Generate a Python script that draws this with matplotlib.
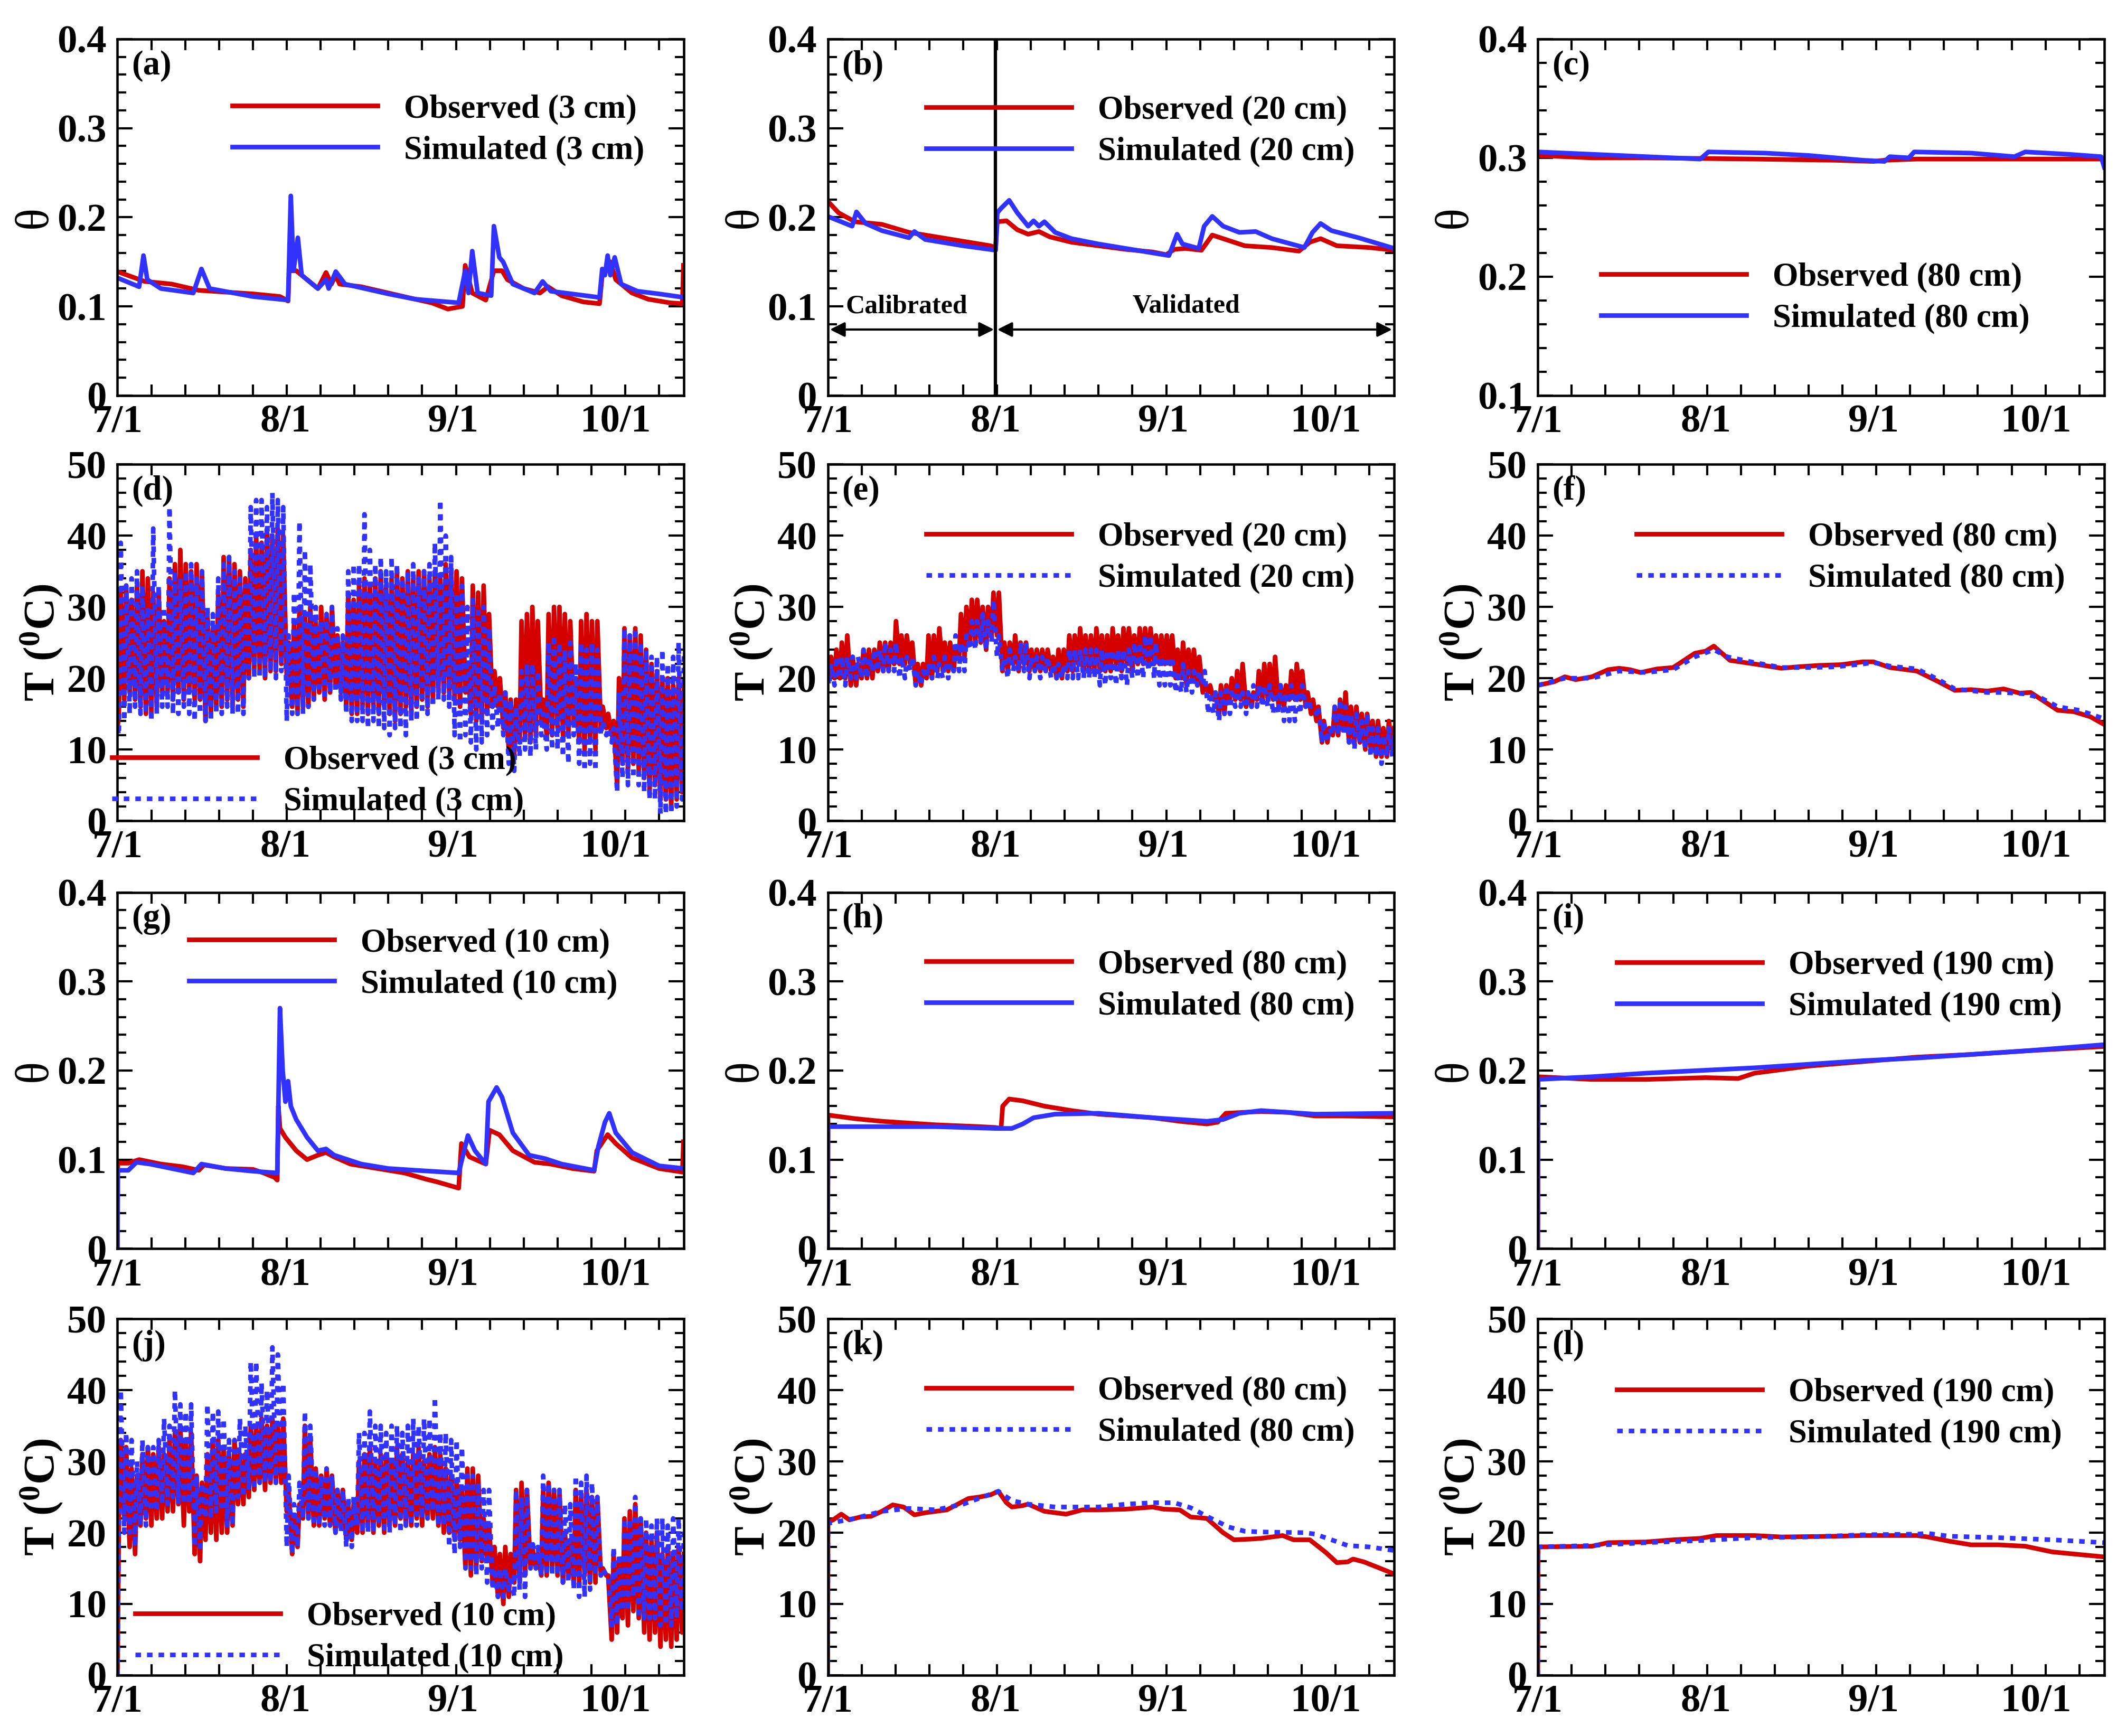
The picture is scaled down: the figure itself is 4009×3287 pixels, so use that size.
import numpy as np
import matplotlib
matplotlib.use("Agg")
import matplotlib.pyplot as plt
from matplotlib.ticker import MultipleLocator, FixedLocator, FuncFormatter

plt.rcParams['font.family'] = ['Liberation Serif', 'DejaVu Serif']
plt.rcParams['font.weight'] = 'bold'
plt.rcParams['axes.labelweight'] = 'bold'
plt.rcParams['mathtext.fontset'] = 'custom'
plt.rcParams['mathtext.rm'] = 'Liberation Serif:bold'
plt.rcParams['mathtext.bf'] = 'Liberation Serif:bold'

RED = '#d40000'
BLUE = '#3232ff'

date_ticks = [0, 31, 62, 92]
date_labels = ['7/1', '8/1', '9/1', '10/1']
x_end = 104.6

# ---------------- soil moisture (theta), day since 7/1 -> value -------------
a_obs_day = [0, 5, 10, 15, 20, 25, 30, 31.5, 31.8, 32.1, 33, 35, 37, 38.5, 39.5, 40.3, 41, 45, 50, 55, 58, 61, 63.7,
             64.2, 65.5, 68, 69.5, 71, 72, 75, 78, 79.5, 82, 86, 89, 89.5, 91, 92, 95, 98, 102, 104.3, 104.5]
a_obs = [0.139, 0.128, 0.125, 0.118, 0.116, 0.114, 0.111, 0.106, 0.16, 0.14, 0.14, 0.13, 0.12, 0.138, 0.125, 0.135,
         0.125, 0.122, 0.115, 0.108, 0.104, 0.097, 0.1, 0.146, 0.115, 0.107, 0.14, 0.14, 0.13, 0.12, 0.115, 0.122,
         0.112, 0.105, 0.103, 0.135, 0.15, 0.13, 0.115, 0.108, 0.104, 0.103, 0.146]
a_sim_day = [0, 4, 4.8, 5.5, 8, 14, 15.5, 17, 25, 31.5, 32, 32.5, 33.3, 34, 37, 38.5, 39, 40.3, 42, 50, 55, 63, 64.2,
             64.8, 65.5, 66.5, 69, 69.5, 70.5, 71.2, 73, 77, 78.5, 80, 89, 89.5, 90, 90.5, 91, 91.8, 93, 96, 100, 104.6]
a_sim = [0.132, 0.122, 0.157, 0.13, 0.12, 0.115, 0.142, 0.12, 0.111, 0.107, 0.224, 0.14, 0.177, 0.135, 0.12, 0.13,
         0.12, 0.139, 0.125, 0.114, 0.108, 0.104, 0.14, 0.115, 0.162, 0.115, 0.112, 0.19, 0.155, 0.15, 0.125, 0.115,
         0.128, 0.117, 0.11, 0.142, 0.135, 0.157, 0.135, 0.155, 0.125, 0.117, 0.114, 0.11]

b_obs_day = [0, 2, 5, 10, 15, 20, 25, 30, 31, 31.3, 33, 35, 37, 39, 41, 45, 50, 55, 60, 62.5, 64, 66, 69, 71, 73, 77,
             82, 87, 89, 91, 94, 100, 104.6]
b_obs = [0.218, 0.205, 0.195, 0.192, 0.183, 0.178, 0.173, 0.168, 0.166, 0.195, 0.196, 0.186, 0.181, 0.184, 0.178,
         0.172, 0.168, 0.164, 0.161, 0.158, 0.164, 0.165, 0.163, 0.18, 0.176, 0.168, 0.166, 0.162, 0.172, 0.176,
         0.168, 0.166, 0.163]
b_sim_day = [0, 4.5, 5.3, 7, 10, 15, 16, 18, 25, 31, 31.3, 32, 33.5, 35, 37, 38, 39, 40, 42, 45, 50, 55, 60, 63,
             64.5, 65.5, 68.5, 69.5, 71, 73, 76, 79, 82, 88, 89.5, 91, 93, 98, 104.6]
b_sim = [0.201, 0.19, 0.206, 0.193, 0.185, 0.177, 0.184, 0.175, 0.168, 0.163, 0.205, 0.21, 0.219, 0.205, 0.19, 0.196,
         0.19, 0.195, 0.183, 0.176, 0.17, 0.165, 0.16, 0.157, 0.181, 0.17, 0.165, 0.19, 0.201, 0.19, 0.183, 0.184,
         0.176, 0.166, 0.183, 0.193, 0.185, 0.177, 0.165]

c_obs_day = [0, 10, 20, 40, 55, 62, 64, 70, 104.6]
c_obs = [0.302, 0.3, 0.3, 0.299, 0.298, 0.297, 0.298, 0.299, 0.299]
c_sim_day = [0, 10, 25, 30, 31.5, 42, 50, 60, 64, 65, 68.5, 69.5, 80, 88, 90, 98, 104, 104.6]
c_sim = [0.305, 0.303, 0.3, 0.299, 0.305, 0.304, 0.302, 0.298, 0.297, 0.301, 0.3, 0.305, 0.304, 0.301, 0.305,
         0.303, 0.301, 0.292]

g_obs_day = [0, 0.05, 2, 4, 8, 12, 15, 16, 20, 25, 27, 29, 29.5, 29.7, 30, 31, 33, 35, 37, 38.5, 40, 43, 48, 53, 57,
             59, 63, 63.5, 65, 68, 68.7, 70.5, 73, 77, 80, 84, 88, 88.5, 90.5, 92, 95, 100, 104.3, 104.5]
g_obs = [0, 0.096, 0.096, 0.1, 0.095, 0.092, 0.088, 0.094, 0.09, 0.089, 0.085, 0.08, 0.077, 0.16, 0.135, 0.125, 0.11,
         0.1, 0.105, 0.108, 0.103, 0.095, 0.09, 0.085, 0.078, 0.075, 0.068, 0.118, 0.103, 0.095, 0.133, 0.128, 0.11,
         0.097, 0.095, 0.09, 0.087, 0.11, 0.128, 0.118, 0.102, 0.09, 0.086, 0.12]
g_sim_day = [0, 0.05, 2, 3.5, 6, 10, 14, 15.5, 20, 25, 29.5, 30, 30.5, 31, 31.5, 32, 33, 35, 37, 38.5, 40, 45, 50,
             55, 63, 64, 64.7, 66, 68, 68.5, 70, 71, 73, 76, 79, 82, 88, 88.8, 90, 90.8, 92, 95, 100, 104.6]
g_sim = [0, 0.088, 0.088, 0.097, 0.095, 0.09, 0.085, 0.095, 0.09, 0.087, 0.085, 0.27, 0.2, 0.165, 0.188, 0.16, 0.145,
         0.125, 0.11, 0.112, 0.105, 0.095, 0.09, 0.088, 0.085, 0.11, 0.127, 0.11, 0.095, 0.165, 0.181, 0.17, 0.13,
         0.105, 0.101, 0.095, 0.088, 0.115, 0.142, 0.152, 0.13, 0.108, 0.093, 0.09]

h_obs_day = [0, 0.05, 5, 10, 20, 28, 31, 32, 32.3, 33.5, 36, 40, 45, 50, 55, 60, 65, 70, 72, 73.5, 80, 85, 90, 95, 104.6]
h_obs = [0, 0.15, 0.146, 0.143, 0.139, 0.137, 0.136, 0.135, 0.16, 0.168, 0.166, 0.16, 0.155, 0.151, 0.149, 0.147,
         0.143, 0.14, 0.142, 0.152, 0.154, 0.153, 0.149, 0.149, 0.148]
h_sim_day = [0, 0.05, 10, 20, 31, 34, 36, 38, 42, 50, 60, 65, 70, 73, 76, 80, 85, 90, 104.6]
h_sim = [0, 0.137, 0.137, 0.137, 0.135, 0.135, 0.14, 0.147, 0.151, 0.152, 0.147, 0.145, 0.143, 0.145, 0.152, 0.155,
         0.153, 0.151, 0.152]

i_obs_day = [0, 0.05, 10, 20, 31, 37, 40, 50, 60, 70, 80, 90, 104.6]
i_obs = [0, 0.193, 0.19, 0.19, 0.192, 0.191, 0.197, 0.205, 0.21, 0.215, 0.218, 0.222, 0.227]
i_sim_day = [0, 0.05, 10, 20, 30, 40, 50, 60, 70, 80, 90, 104.6]
i_sim = [0, 0.19, 0.193, 0.197, 0.2, 0.203, 0.207, 0.211, 0.214, 0.218, 0.222, 0.229]

# ---------------- deep soil temperature, day -> value ----------------------
f_obs_day = [0, 3, 5, 7, 10, 13, 15, 17, 19, 22, 25, 27, 29, 31, 32.5, 34, 35.5, 40, 45, 48, 52, 56, 60, 62, 65, 70,
             74, 77, 80, 83, 86, 89, 91, 93, 96, 99, 102, 104.6]
f_obs = [19, 19.5, 20.2, 19.8, 20.2, 21.2, 21.4, 21.2, 20.8, 21.3, 21.5, 22.5, 23.5, 23.8, 24.5, 23.5, 22.5, 22,
         21.4, 21.6, 21.8, 21.9, 22.3, 22.3, 21.5, 21, 19.5, 18.3, 18.4, 18.2, 18.5, 17.9, 18, 17, 15.5, 15.3, 14.6,
         13.5]
f_sim_day = [0, 5, 10, 15, 20, 25, 29, 32.5, 35, 40, 45, 50, 55, 60, 62, 65, 70, 74, 77, 83, 86, 90, 93, 96, 100,
             104.6]
f_sim = [19, 20, 20, 21, 20.8, 21.2, 23, 24, 23, 22.2, 21.5, 21.5, 21.6, 22, 22.2, 21.7, 21.3, 19.8, 18.5, 18, 18,
         17.8, 17.2, 16, 15.5, 14.3]

k_obs_day = [0, 0.05, 1, 2.5, 4, 6, 8, 10, 12, 14, 16, 18, 20, 22, 24, 26, 28, 30, 31.5, 33, 34, 36, 37, 40, 42, 44,
             47, 50, 55, 60, 62, 65, 67, 70, 73, 75, 78, 80, 84, 86, 89, 92, 94, 96, 97, 99, 102, 104.6]
k_obs = [0, 21.5, 21.8, 22.6, 21.8, 22.2, 22.3, 23, 23.9, 23.6, 22.5, 22.8, 23, 23.2, 24, 24.8, 25, 25.3, 25.8, 24.2,
         23.6, 23.8, 24, 23, 22.8, 22.6, 23.2, 23.2, 23.3, 23.6, 23.3, 23.2, 22.2, 22, 20, 19, 19.1, 19.2, 19.6, 19,
         19, 17.2, 15.8, 15.9, 16.3, 15.9, 15, 14.2]
k_sim_day = [0, 0.05, 5, 10, 15, 20, 25, 31.5, 34, 37, 42, 50, 55, 60, 64, 67, 70, 74, 77, 80, 88, 90, 93, 96, 100,
             104.6]
k_sim = [0, 21.3, 22, 23, 23.4, 23.2, 24, 25.8, 24.5, 24, 23.6, 23.6, 24, 24.2, 24.2, 23.5, 22.3, 20.8, 20.2, 20.1,
         20, 19.8, 19, 18.2, 18, 17.5]

l_obs_day = [0, 0.05, 10, 13, 20, 25, 30, 33, 40, 45, 55, 60, 70, 72, 76, 80, 85, 90, 95, 104.6]
l_obs = [0, 18, 18.1, 18.6, 18.7, 19, 19.2, 19.6, 19.6, 19.4, 19.5, 19.6, 19.6, 19.4, 18.8, 18.3, 18.3, 18.1, 17.3,
         16.6]
l_sim_day = [0, 0.05, 10, 20, 30, 40, 50, 60, 70, 72, 76, 85, 95, 104.6]
l_sim = [0, 18, 18.2, 18.6, 18.9, 19.3, 19.4, 19.7, 19.8, 19.9, 19.5, 19.3, 19.0, 18.6]

# ---------------- near-surface temperature: daily minimum / maximum --------
d_obs_min = [15, 17, 18, 17, 16, 15, 15, 16, 18, 18, 17, 18, 17, 18, 17, 17, 14, 15, 16, 16, 17, 16, 17, 16, 20, 21,
             21, 20, 21, 21, 22, 20, 16, 15, 16, 16, 17, 18, 17, 18, 19, 18, 16, 15, 15, 16, 15, 16, 15, 16, 15, 14,
             15, 16, 15, 16, 17, 16, 17, 18, 18, 18, 17, 16, 18, 15, 14, 14, 15, 16, 16, 13, 10, 9, 11, 12, 11, 12,
             14, 12, 12, 13, 12, 12, 14, 11, 10, 11, 10, 13, 13, 12, 5, 8, 7, 8, 7, 6, 4, 5, 3, 3, 2, 3, 4]
d_obs_max = [32, 33, 31, 33, 35, 34, 32, 32, 28, 34, 36, 38, 36, 35, 36, 35, 29, 27, 32, 37, 37, 36, 35, 34, 38, 40,
             39, 41, 40, 41, 40, 25, 28, 30, 29, 30, 28, 30, 29, 30, 26, 25, 32, 31, 33, 34, 33, 34, 35, 33, 34, 35,
             34, 35, 34, 35, 35, 34, 35, 34, 36, 35, 35, 34, 22, 33, 32, 33, 29, 21, 20, 18, 17, 17, 28, 29, 30, 28,
             17, 29, 30, 30, 29, 28, 20, 28, 29, 28, 28, 16, 15, 14, 20, 27, 26, 27, 26, 24, 22, 21, 20, 20, 19, 20, 19]
d_sim_min = [12, 14, 15, 16, 15, 15, 14, 15, 16, 16, 15, 15, 16, 15, 14, 15, 14, 14, 15, 15, 16, 15, 15, 15, 20, 20,
             20, 20, 21, 20, 21, 14, 15, 15, 15, 16, 17, 18, 17, 18, 18, 17, 15, 14, 14, 14, 13, 14, 13, 13, 12, 13,
             13, 12, 14, 14, 15, 15, 16, 17, 17, 16, 12, 11, 12, 11, 10, 11, 12, 13, 13, 12, 8, 7, 9, 10, 9, 10, 12,
             10, 10, 10, 9, 8, 12, 8, 7, 8, 7, 12, 12, 11, 4, 6, 5, 6, 5, 4, 3, 3, 1, 1, 1, 2, 3]
d_sim_max = [39, 33, 34, 35, 33, 30, 41, 33, 30, 44, 35, 34, 35, 36, 34, 35, 30, 29, 34, 36, 37, 35, 34, 33, 44, 45,
             45, 44, 46, 45, 44, 26, 32, 42, 38, 36, 30, 28, 29, 30, 27, 26, 35, 36, 36, 43, 38, 36, 37, 35, 37, 36,
             34, 35, 36, 34, 35, 36, 39, 45, 40, 37, 32, 33, 30, 31, 30, 30, 27, 19, 18, 18, 17, 16, 21, 22, 22, 21,
             15, 25, 26, 25, 24, 25, 22, 25, 24, 25, 24, 14, 13, 13, 18, 27, 26, 27, 25, 24, 23, 23, 24, 22, 23, 25, 24]

e_obs_min = [20, 20, 20, 20, 19, 19, 20, 20, 20, 21, 21, 21, 22, 22, 22, 22, 19, 19, 20, 20, 21, 21, 21, 21, 23, 23,
             25, 25, 25, 24, 26, 26, 21, 21, 22, 21, 22, 21, 21, 21, 21, 21, 20, 20, 21, 21, 22, 21, 21, 21, 21, 21,
             21, 22, 21, 22, 21, 22, 22, 22, 22, 22, 22, 22, 20, 20, 19, 20, 19, 18, 18, 17, 15, 15, 17, 17, 17, 16,
             16, 17, 17, 17, 17, 16, 16, 17, 17, 17, 16, 15, 14, 11, 11, 12, 12, 13, 11, 11, 11, 10, 10, 9, 9, 9, 10]
e_obs_max = [23, 24, 25, 26, 23, 22, 24, 24, 24, 25, 25, 25, 28, 26, 26, 25, 22, 22, 26, 26, 27, 25, 25, 24, 29, 30,
             31, 31, 30, 30, 32, 32, 25, 25, 26, 25, 25, 24, 24, 24, 24, 23, 24, 24, 26, 26, 27, 26, 26, 27, 26, 26,
             27, 26, 27, 27, 26, 27, 27, 27, 26, 26, 26, 26, 24, 25, 24, 24, 23, 19, 19, 18, 19, 19, 20, 21, 22, 18,
             18, 21, 22, 22, 23, 19, 19, 21, 22, 21, 18, 17, 16, 14, 13, 16, 17, 18, 16, 16, 15, 15, 14, 14, 13, 14, 13]
e_sim_min = [19, 19, 20, 19, 20, 20, 20, 20, 21, 21, 21, 21, 21, 20, 20, 21, 19, 19, 20, 20, 20, 20, 20, 21, 21, 21,
             24, 24, 25, 24, 25, 23, 21, 20, 21, 21, 21, 20, 21, 20, 21, 20, 20, 20, 20, 20, 20, 20, 20, 20, 19, 19,
             20, 19, 20, 19, 20, 20, 20, 21, 20, 19, 19, 19, 18, 18, 18, 18, 19, 19, 15, 15, 14, 15, 15, 16, 16, 15,
             16, 16, 16, 16, 15, 15, 14, 14, 14, 15, 16, 16, 15, 11, 11, 12, 12, 12, 11, 10, 11, 10, 9, 9, 8, 9, 9]
e_sim_max = [22, 23, 23, 23, 23, 23, 24, 23, 24, 24, 25, 24, 25, 23, 23, 23, 21, 21, 22, 23, 22, 23, 22, 26, 25, 26,
             28, 28, 29, 28, 31, 26, 23, 24, 23, 25, 25, 23, 23, 23, 23, 22, 22, 22, 24, 24, 24, 24, 24, 24, 24, 24,
             24, 24, 24, 24, 25, 25, 26, 26, 25, 23, 23, 23, 21, 22, 21, 21, 21, 21, 18, 18, 18, 19, 18, 19, 18, 18,
             19, 19, 19, 19, 18, 19, 18, 19, 18, 19, 17, 16, 16, 14, 13, 16, 17, 16, 15, 15, 14, 15, 13, 13, 12, 13, 12]

j_obs_min = [22, 22, 18, 17, 21, 22, 21, 22, 22, 23, 23, 24, 21, 23, 17, 16, 19, 20, 19, 20, 20, 21, 24, 24, 25, 26,
             27, 26, 27, 27, 27, 23, 17, 18, 22, 22, 21, 21, 22, 21, 20, 21, 19, 19, 20, 20, 21, 20, 21, 20, 21, 21,
             22, 21, 21, 22, 21, 22, 22, 21, 20, 20, 19, 19, 15, 14, 15, 16, 16, 13, 11, 10, 11, 13, 13, 14, 15, 15,
             14, 14, 15, 14, 13, 14, 13, 13, 14, 13, 13, 14, 14, 5, 6, 8, 7, 9, 8, 6, 5, 6, 4, 5, 4, 5, 6]
j_obs_max = [33, 32, 29, 28, 31, 32, 31, 32, 31, 33, 34, 35, 33, 34, 28, 27, 31, 33, 33, 32, 31, 33, 31, 31, 35, 35,
             36, 35, 36, 35, 36, 26, 22, 24, 35, 33, 29, 28, 29, 28, 26, 26, 24, 24, 30, 31, 32, 30, 31, 31, 30, 32,
             31, 30, 31, 32, 30, 31, 32, 31, 29, 28, 27, 26, 29, 29, 28, 22, 21, 18, 17, 18, 17, 26, 27, 26, 18, 17,
             26, 27, 26, 26, 20, 19, 26, 25, 26, 25, 25, 15, 14, 17, 16, 22, 23, 24, 22, 20, 19, 20, 17, 18, 17, 18, 17]
j_sim_min = [23, 20, 20, 18, 21, 21, 23, 23, 24, 24, 25, 24, 24, 24, 18, 18, 22, 22, 23, 23, 21, 21, 25, 25, 26, 26,
             27, 27, 27, 27, 28, 18, 17, 18, 22, 22, 21, 21, 21, 21, 20, 20, 18, 18, 21, 20, 20, 20, 21, 20, 20, 21,
             20, 21, 21, 21, 22, 22, 23, 21, 21, 18, 17, 18, 15, 15, 14, 15, 13, 12, 11, 11, 12, 11, 12, 11, 15, 15,
             14, 14, 14, 14, 13, 13, 12, 11, 11, 12, 14, 14, 14, 7, 7, 9, 9, 11, 8, 8, 8, 8, 7, 7, 7, 8, 9]
j_sim_max = [40, 34, 33, 30, 33, 32, 32, 33, 36, 35, 40, 38, 37, 38, 28, 27, 38, 37, 37, 36, 33, 33, 36, 35, 44, 44,
             41, 40, 46, 45, 41, 28, 24, 27, 37, 35, 29, 28, 29, 28, 26, 26, 25, 25, 34, 34, 37, 35, 35, 34, 35, 35,
             34, 35, 36, 35, 36, 36, 39, 34, 34, 33, 33, 32, 28, 28, 27, 26, 26, 15, 15, 15, 14, 26, 25, 26, 19, 18,
             28, 27, 26, 26, 24, 24, 28, 27, 28, 27, 25, 15, 14, 18, 17, 22, 22, 25, 22, 22, 21, 22, 22, 21, 22, 22, 21]
d_start = 13
e_start = 20
j_start = 0


def zigzag(tmin, tmax, start):
    # one low (early morning) and one high (afternoon) point per day
    days = np.arange(len(tmin))
    t = np.empty(2 * len(days) + 1)
    v = np.empty(2 * len(days) + 1)
    t[0] = 0
    v[0] = start
    t[1::2] = days + 0.25
    v[1::2] = tmin
    t[2::2] = days + 0.6
    v[2::2] = tmax
    return t, v


def style_axes(ax, kind):
    ax.set_xlim(0, x_end)
    ax.xaxis.set_major_locator(FixedLocator(date_ticks))
    ax.set_xticklabels(date_labels)
    ax.xaxis.set_minor_locator(MultipleLocator(6.25))
    ax.tick_params(axis='x', which='major', length=0, pad=4, labelsize=18)
    ax.tick_params(axis='x', which='minor', direction='in', length=5, width=1, top=True, bottom=True)
    if kind == 'T':
        ax.set_ylim(0, 50)
        ax.yaxis.set_major_locator(MultipleLocator(10))
        ax.yaxis.set_minor_locator(MultipleLocator(2))
        ax.set_ylabel(r'T ($\mathregular{^{0}}$C)', fontsize=20, labelpad=0)
        ax.yaxis.set_label_coords(-0.094, 0.5)
    else:
        ax.set_ylim(0.1 if kind == 'theta_c' else 0, 0.4)
        ax.yaxis.set_major_locator(MultipleLocator(0.1))
        ax.yaxis.set_minor_locator(MultipleLocator(0.02))
        ax.set_ylabel('θ', fontsize=21, fontweight='normal', labelpad=0)
        ax.yaxis.set_label_coords(-0.108, 0.5)
    ax.yaxis.set_major_formatter(FuncFormatter(lambda v, p: '%g' % round(v, 3)))
    ax.tick_params(axis='y', which='major', direction='in', length=7, width=1, left=True, right=True,
                   labelsize=18, pad=5)
    ax.tick_params(axis='y', which='minor', direction='in', length=4, width=1, left=True, right=True)
    for s in ax.spines.values():
        s.set_linewidth(1.1)


def add_legend(ax, x0, ymid):
    ax.legend(loc='center left', bbox_to_anchor=(x0, ymid - 0.009), frameon=False, fontsize=15,
              handlelength=4.4, handletextpad=0.8, labelspacing=0.32, borderpad=0, borderaxespad=0)


fig = plt.figure(figsize=(4009 / 300, 3287 / 300), dpi=300)
col_left = [0.0555, 0.391, 0.7264]
row_bottom = [0.7722, 0.5272, 0.2807, 0.035]
w, h = 0.2676, 0.2053
axs = [[fig.add_axes([col_left[c], row_bottom[r], w, h]) for c in range(3)] for r in range(4)]

lw = 2.1
dot = (0, (1.2, 1.3))

theta_panels = [
    (0, 0, a_obs_day, a_obs, a_sim_day, a_sim, '3 cm', '(a)', 0.203, 0.754, 'theta'),
    (0, 1, b_obs_day, b_obs, b_sim_day, b_sim, '20 cm', '(b)', 0.174, 0.750, 'theta'),
    (0, 2, c_obs_day, c_obs, c_sim_day, c_sim, '80 cm', '(c)', 0.112, 0.282, 'theta_c'),
    (2, 0, g_obs_day, g_obs, g_sim_day, g_sim, '10 cm', '(g)', 0.126, 0.808, 'theta'),
    (2, 1, h_obs_day, h_obs, h_sim_day, h_sim, '80 cm', '(h)', 0.174, 0.747, 'theta'),
    (2, 2, i_obs_day, i_obs, i_sim_day, i_sim, '190 cm', '(i)', 0.140, 0.745, 'theta'),
]
for r, c, od, ov, sd, sv, depth, tag, lx, ly, kind in theta_panels:
    ax = axs[r][c]
    ax.plot(od, ov, color=RED, lw=lw, label='Observed (%s)' % depth)
    ax.plot(sd, sv, color=BLUE, lw=lw, label='Simulated (%s)' % depth)
    style_axes(ax, kind)
    add_legend(ax, lx, ly)
    ax.text(0.025, 0.925, tag, transform=ax.transAxes, fontsize=15.5, va='center', ha='left')

smooth_T = [
    (1, 2, f_obs_day, f_obs, f_sim_day, f_sim, '80 cm', '(f)', 0.174, 0.746),
    (3, 1, k_obs_day, k_obs, k_sim_day, k_sim, '80 cm', '(k)', 0.174, 0.747),
    (3, 2, l_obs_day, l_obs, l_sim_day, l_sim, '190 cm', '(l)', 0.140, 0.743),
]
for r, c, od, ov, sd, sv, depth, tag, lx, ly in smooth_T:
    ax = axs[r][c]
    ax.plot(od, ov, color=RED, lw=lw, label='Observed (%s)' % depth)
    ax.plot(sd, sv, color=BLUE, lw=lw, ls=dot, label='Simulated (%s)' % depth)
    style_axes(ax, 'T')
    add_legend(ax, lx, ly)
    ax.text(0.025, 0.925, tag, transform=ax.transAxes, fontsize=15.5, va='center', ha='left')

daily_T = [
    (1, 0, d_obs_min, d_obs_max, d_sim_min, d_sim_max, d_start, '3 cm', '(d)', -0.0095, 0.119),
    (1, 1, e_obs_min, e_obs_max, e_sim_min, e_sim_max, e_start, '20 cm', '(e)', 0.174, 0.746),
    (3, 0, j_obs_min, j_obs_max, j_sim_min, j_sim_max, j_start, '10 cm', '(j)', 0.031, 0.115),
]
for r, c, omin, omax, smin, smax, st, depth, tag, lx, ly in daily_T:
    ax = axs[r][c]
    t, v = zigzag(omin, omax, st)
    ax.plot(t, v, color=RED, lw=lw, label='Observed (%s)' % depth)
    t, v = zigzag(smin, smax, st)
    ax.plot(t, v, color=BLUE, lw=lw, ls=dot, label='Simulated (%s)' % depth)
    style_axes(ax, 'T')
    add_legend(ax, lx, ly)
    ax.text(0.025, 0.925, tag, transform=ax.transAxes, fontsize=15.5, va='center', ha='left')

# calibration / validation split in (b)
axb = axs[0][1]
axb.axvline(31, color='k', lw=1.5)
arrow = dict(arrowstyle='<|-|>', color='k', lw=1.0, mutation_scale=14, shrinkA=0, shrinkB=0)
axb.annotate('', xy=(0.4, 0.074), xytext=(30.7, 0.074), arrowprops=arrow)
axb.annotate('', xy=(31.3, 0.074), xytext=(104.2, 0.074), arrowprops=arrow)
axb.text(14.6, 0.1, 'Calibrated', fontsize=12, ha='center', va='center')
axb.text(66.2, 0.1, 'Validated', fontsize=12, ha='center', va='center')

fig.savefig('out.png', dpi=300, facecolor='white')
